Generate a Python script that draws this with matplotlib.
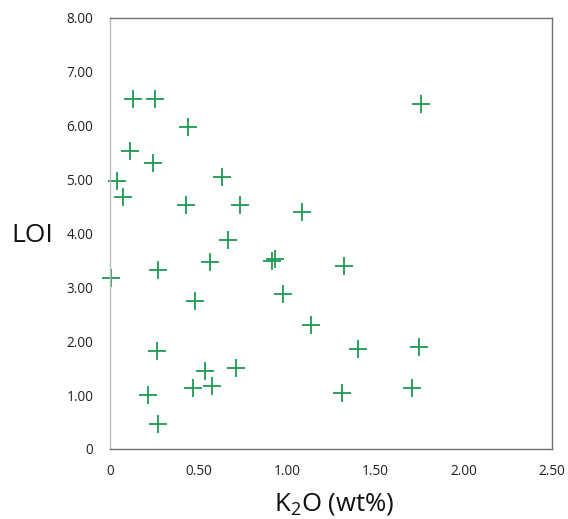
import matplotlib
matplotlib.use("Agg")
import matplotlib.pyplot as plt

k2o = [0.132, 0.255, 0.44, 0.115, 0.245, 0.038, 0.075, 0.635, 0.432, 0.733, 1.088,
       0.666, 0.567, 0.915, 0.933, 1.324, 0.273, 0.006, 0.481, 0.98, 1.137, 1.40,
       0.264, 0.713, 0.537, 0.579, 0.471, 0.213, 1.314, 0.273, 1.757, 1.75, 1.706]
loi = [6.49, 6.49, 5.97, 5.53, 5.30, 4.98, 4.68, 5.04, 4.53, 4.53, 4.40,
       3.87, 3.46, 3.48, 3.52, 3.40, 3.32, 3.17, 2.75, 2.88, 2.30, 1.86,
       1.82, 1.50, 1.45, 1.17, 1.14, 1.00, 1.03, 0.46, 6.39, 1.90, 1.14]

xticks = [0, 0.5, 1.0, 1.5, 2.0, 2.5]
xticklabels = ["0", "0.50", "1.00", "1.50", "2.00", "2.50"]
yticks = [0, 1, 2, 3, 4, 5, 6, 7, 8]
yticklabels = ["0", "1.00", "2.00", "3.00", "4.00", "5.00", "6.00", "7.00", "8.00"]

plt.rcParams['font.family'] = ['Open Sans', 'DejaVu Sans']
plt.rcParams['mathtext.fontset'] = 'custom'
plt.rcParams['mathtext.rm'] = 'Open Sans'

fig = plt.figure(figsize=(5.68, 5.19), dpi=100)
ax = fig.add_axes([0.1937, 0.1349, 0.7781, 0.831])
ax.plot(k2o, loi, linestyle='none', marker='+', markersize=13, markeredgewidth=1.3,
        color='#1d9a52', clip_on=False)
ax.set_xlim(0, 2.5)
ax.set_ylim(0, 8)
ax.set_xticks(xticks)
ax.set_xticklabels(xticklabels)
ax.set_yticks(yticks)
ax.set_yticklabels(yticklabels)
ax.tick_params(length=0, labelsize=9.8, labelcolor='#222222')
ax.tick_params(axis='y', pad=12)
ax.tick_params(axis='x', pad=11)
for s in ['top', 'right', 'bottom']:
    ax.spines[s].set_color('#707070')
    ax.spines[s].set_linewidth(1.0)
ax.spines['left'].set_color('#bbbbbb')
ax.spines['left'].set_linewidth(1.0)

fig.text(32 / 568, 1 - 236 / 519, "LOI", fontsize=19, ha='center', va='center', color='#111111')
fig.text(334 / 568, 1 - 504 / 519, "K$\\mathrm{_2}$O (wt%)", fontsize=18.5, ha='center', va='center',
         color='#111111')

fig.savefig("out.png", dpi=100)
